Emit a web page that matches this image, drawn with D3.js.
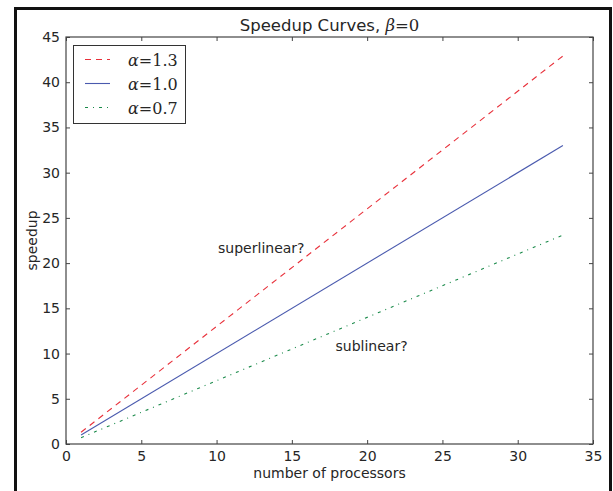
<!DOCTYPE html>
<html>
<head>
<meta charset="utf-8">
<script src="https://cdn.jsdelivr.net/npm/d3@7"></script>
<style>
  body { margin: 0; background: #fff; }
  text { font-family: "DejaVu Sans", sans-serif; fill: #262626; }
  .math { font-family: "DejaVu Serif", serif; }
</style>
</head>
<body>
<svg id="chart" width="613" height="491"></svg>
<script>
// data
const processors = [1, 33];
const alphas = ["1.3", "1.0", "0.7"];
const speedupSuper = [1.3, 42.9];
const speedupLinear = [1.0, 33.0];
const speedupSub = [0.7, 23.1];
const xTicks = [0, 5, 10, 15, 20, 25, 30, 35];
const yTicks = [0, 5, 10, 15, 20, 25, 30, 35, 40, 45];

const series = [
    {alpha: alphas[0], values: speedupSuper, color: "#e8303a", dash: "6,5"},
    {alpha: alphas[1], values: speedupLinear, color: "#4a5aae", dash: null},
    {alpha: alphas[2], values: speedupSub, color: "#1a8a4a", dash: "3,5,1,5"}
];

const svg = d3.select("#chart");
const mLeft = 66, mRight = 593, mTop = 37, mBottom = 444;
const fs = "14px";

const x = d3.scaleLinear().domain([0, 35]).range([mLeft, mRight]);
const y = d3.scaleLinear().domain([0, 45]).range([mBottom, mTop]);

// outer frame around the figure
svg.append("path")
    .attr("d", "M15.5,500 L15.5,8.5 L610.5,8.5 L610.5,500")
    .attr("fill", "none")
    .attr("stroke", "#111")
    .attr("stroke-width", 3);

// lines
const line = d3.line()
    .x((d, i) => x(processors[i]))
    .y(d => y(d));

series.forEach(s => {
    svg.append("path")
        .datum(s.values)
        .attr("d", line)
        .attr("fill", "none")
        .attr("stroke", s.color)
        .attr("stroke-width", 1.1)
        .attr("stroke-dasharray", s.dash);
});

// axes, ticks pointing inward on all four sides
const tickStyle = g => {
    g.select(".domain").remove();
    g.selectAll(".tick line").attr("stroke", "#444");
    g.selectAll(".tick text")
        .attr("fill", "#262626")
        .style("font-family", "DejaVu Sans, sans-serif")
        .style("font-size", fs);
};

svg.append("g")
    .attr("transform", `translate(0,${mBottom})`)
    .call(d3.axisBottom(x).tickValues(xTicks).tickSizeInner(-4).tickSizeOuter(0).tickPadding(7))
    .call(tickStyle);

svg.append("g")
    .attr("transform", `translate(0,${mTop})`)
    .call(d3.axisTop(x).tickValues(xTicks).tickSizeInner(-4).tickSizeOuter(0).tickFormat(""))
    .call(tickStyle);

svg.append("g")
    .attr("transform", `translate(${mLeft},0)`)
    .call(d3.axisLeft(y).tickValues(yTicks).tickSizeInner(-4).tickSizeOuter(0).tickPadding(6))
    .call(tickStyle);

svg.append("g")
    .attr("transform", `translate(${mRight},0)`)
    .call(d3.axisRight(y).tickValues(yTicks).tickSizeInner(-4).tickSizeOuter(0).tickFormat(""))
    .call(tickStyle);

// plot frame
svg.append("rect")
    .attr("x", mLeft).attr("y", mTop)
    .attr("width", mRight - mLeft).attr("height", mBottom - mTop)
    .attr("fill", "none")
    .attr("stroke", "#444")
    .attr("stroke-width", 1.2);

// title
const title = svg.append("text")
    .attr("x", (mLeft + mRight) / 2)
    .attr("y", 31)
    .attr("text-anchor", "middle")
    .style("font-size", "16.5px");
title.append("tspan").text("Speedup Curves, ");
title.append("tspan").attr("class", "math").attr("font-style", "italic").text("β");
title.append("tspan").attr("class", "math").text("=0");

// axis labels
svg.append("text")
    .attr("x", (mLeft + mRight) / 2)
    .attr("y", 478)
    .attr("text-anchor", "middle")
    .style("font-size", fs)
    .text("number of processors");

svg.append("text")
    .attr("transform", `translate(37,${(mTop + mBottom) / 2}) rotate(-90)`)
    .attr("text-anchor", "middle")
    .style("font-size", fs)
    .text("speedup");

// annotations
svg.append("text")
    .attr("x", x(10.1)).attr("y", y(21.1))
    .style("font-size", fs)
    .text("superlinear?");

svg.append("text")
    .attr("x", x(17.9)).attr("y", y(10.3))
    .style("font-size", fs)
    .text("sublinear?");

// legend
const legend = svg.append("g");
legend.append("rect")
    .attr("x", 73.5).attr("y", 45.5)
    .attr("width", 112).attr("height", 78)
    .attr("fill", "#fff")
    .attr("stroke", "#333")
    .attr("stroke-width", 1);

series.forEach((s, i) => {
    const ly = 59.5 + i * 24;
    legend.append("line")
        .attr("x1", 85).attr("x2", 110)
        .attr("y1", ly).attr("y2", ly)
        .attr("stroke", s.color)
        .attr("stroke-width", 1.1)
        .attr("stroke-dasharray", s.dash);
    const t = legend.append("text")
        .attr("x", 128).attr("y", ly + 6)
        .attr("class", "math")
        .style("font-size", "16px");
    t.append("tspan").attr("font-style", "italic").text("α");
    t.append("tspan").text("=" + s.alpha);
});
</script>
</body>
</html>
